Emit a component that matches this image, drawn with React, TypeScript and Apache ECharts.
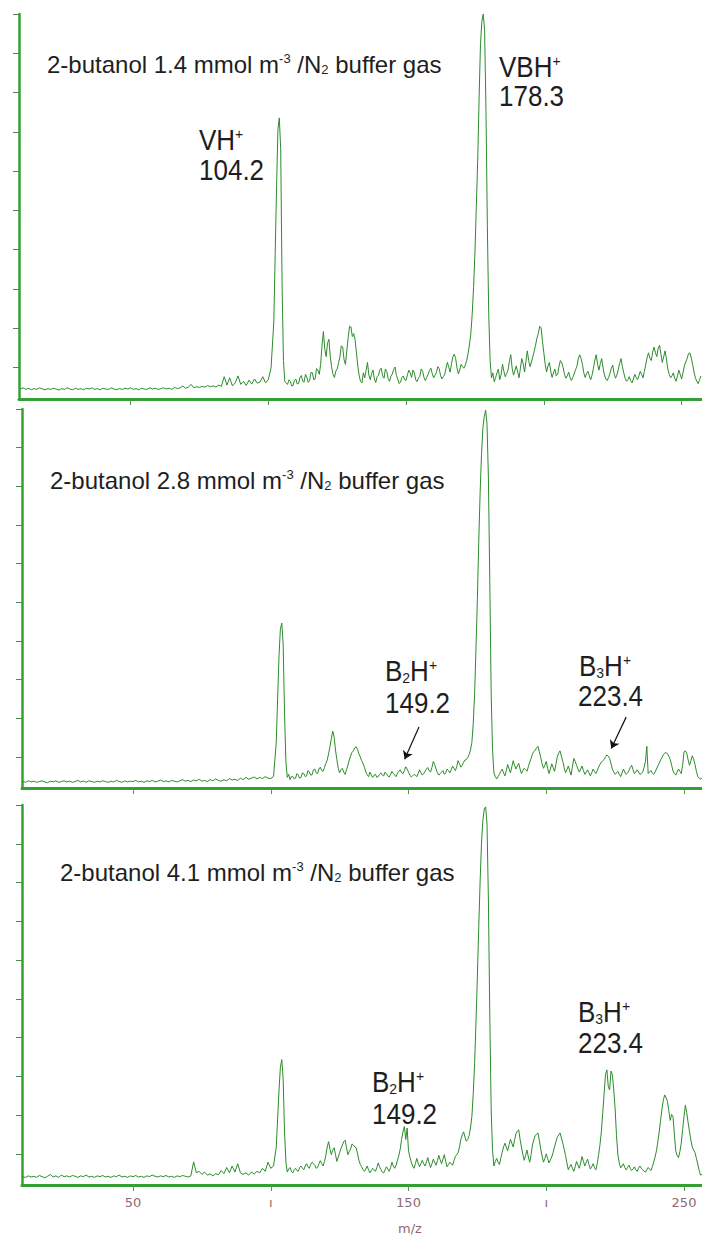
import React, { useEffect, useRef } from "react";
import * as echarts from "echarts";

// m/z tick values
const xTickValues = [50, 100, 150, 200, 250];
const xLabelValues = [50, 100, 150, 200, 250];
// relative-intensity tick levels (0-100 scale of each panel)
const yTickValues = [8.2, 18.4, 28.6, 38.8, 49.0, 59.2, 69.4, 79.6, 89.8, 100];

const panelTitles = [
  "2-butanol 1.4 mmol m{sup|-3} /N{sub|2} buffer gas",
  "2-butanol 2.8 mmol m{sup|-3} /N{sub|2} buffer gas",
  "2-butanol 4.1 mmol m{sup|-3} /N{sub|2} buffer gas",
];

// spectrum 1 : 1.4 mmol m-3  [m/z, intensity]
const spectrum1: [number, number][] = [
  [10,2.6],[11,2.9],[12,2.5],[13,2.8],[14,2.4],[15,2.7],[16,2.5],[17,2.9],[18,2.6],[19,2.4],[20,2.7],[21,2.5],[22,2.8],[23,2.6],[24,2.3],[25,2.7],[26,2.5],[27,2.9],[28,2.6],[29,2.4],[30,2.8],[31,2.5],[32,2.7],[33,2.4],[34,2.8],[35,2.6],[36,2.9],[37,2.5],[38,2.7],[39,2.4],[40,2.8],[41,2.6],[42,2.5],[43,2.9],[44,2.6],[45,2.4],[46,2.7],[47,2.5],[48,2.8],[49,2.6],[50,2.9],[51,2.5],[52,2.7],[53,2.4],[54,2.8],[55,2.6],[56,2.5],[57,2.9],[58,2.6],[59,2.8],[60,2.5],[61,2.7],[62,2.9],[63,2.6],[64,2.8],[65,2.5],[66,3.0],[67,2.7],[68,2.9],[69,3.4],[70,2.8],
  [71,3.1],[72,3.8],[73,2.9],[74,3.2],[75,3.0],[76,3.3],[77,3.1],[78,3.5],[79,3.2],[80,3.4],[81,3.1],[82,3.6],[83,3.3],[84,5.8],[85,3.6],[86,5.5],[87,3.4],[88,4.2],[89,6.0],[90,3.8],[91,4.6],[92,3.5],[93,4.9],[94,3.9],[95,5.2],[96,4.1],[97,4.4],[98,5.8],[99,4.2],[100,5.0],[101,8],[102,20],[103,55],[103.5,70],[104,73],[104.5,65],[105,30],[105.5,10],[106,4.5],
  [107,3.8],[107.5,5.0],[108,4.6],[108.5,3.4],[109,3.5],[109.5,4.8],[110,5.2],[110.5,3.9],[111,4.0],[111.5,5.6],[112,6.1],[112.5,4.6],[113,4.4],[113.5,6.4],[114,5.6],[114.5,4.3],[115,4.8],[115.5,6.9],[116,6.8],[116.5,5.0],[117,5.2],[117.5,7.9],[118,7.5],[118.5,6.4],[119,9.0],[119.5,14],[120,17.5],[120.5,13],[121,11],[121.5,14.5],[122,15.5],[122.5,11],[123,8.2],[123.5,6.4],[124,5.6],[124.5,7.2],[125,7.8],[125.5,9.4],[126,11],[126.5,13.8],[127,13.5],[127.5,10.2],[128,9.0],[128.5,12.5],[129,16],[129.5,18.9],[130,18.7],[130.5,16.2],[131,17],[131.5,15.4],[132,12],[132.5,8.5],[133,6.0],[133.5,4.5],[134,4.2],[134.5,6.8],[135,5.5],[135.5,7.4],[136,9.5],[136.5,6.2],[137,5.0],[137.5,6.6],[138,7.5],[138.5,5.2],[139,4.3],[139.5,5.8],[140,6.2],[140.5,7.6],[141,8.0],[141.5,6.0],[142,5.4],[142.5,7.8],[143,7.1],[143.5,5.3],[144,4.6],[144.5,5.9],[145,6.5],[145.5,7.7],[146,8.3],[146.5,6.1],[147,5.2],[147.5,4.0],[148,4.4],[148.5,5.6],[149,6.0],[149.5,5.0],[150,4.8],[150.5,6.3],[151,7.5],[151.5,6.8],[152,5.6],[152.5,7.5],[153,6.8],[153.5,5.0],[154,4.5],[154.5,5.4],[155,5.9],[155.5,7.8],[156,7.2],[156.5,5.6],[157,4.8],[157.5,5.6],[158,6.4],[158.5,7.4],[159,8.0],[159.5,6.6],[160,5.5],[160.5,6.2],[161,6.8],[161.5,8.4],[162,7.9],[162.5,6.2],[163,5.2],[163.5,5.8],[164,6.3],[164.5,8.0],[165,9.5],[165.5,8.2],[166,7.0],[166.5,9.2],[167,11],[167.5,11.6],[168,10.5],[168.5,8.0],[169,6.5],[169.5,7.6],[170,9.0],[170.5,8.4],[171,8.0],[171.5,8.8],[172,10],[172.5,11.8],[173,14],[173.5,17],[174,22],[174.5,29],[175,38],[175.5,50],[176,62],[176.5,78],[177,92],[177.5,98],[178,100],[178.5,96],[179,75],[179.5,45],[180,22],[180.5,10],[181,5.5],
  [181.5,6.8],[182,4.5],[182.5,5.6],[183,6.8],[183.5,7.8],[184,5.0],[184.5,6.4],[185,9.0],[185.5,7.2],[186,5.8],[186.5,6.6],[187,7.5],[187.5,9.8],[188,11.5],[188.5,8.0],[189,6.2],[189.5,7.4],[190,8.6],[190.5,7.0],[191,5.5],[191.5,8.0],[192,10.5],[192.5,9.2],[193,7.0],[193.5,9.8],[194,12.5],[194.5,10.0],[195,8.4],[195.5,9.6],[196,11],[196.5,12.4],[197,14],[197.5,15.8],[198,17],[198.5,18.9],[199,18.5],[199.5,15.0],[200,12],[200.5,9.0],[201,7.0],[201.5,8.6],[202,9.5],[202.5,7.2],[203,5.6],[203.5,6.8],[204,7.8],[204.5,6.0],[205,6.4],[205.5,8.4],[206,10],[206.5,9.4],[207,8.2],[207.5,6.4],[208,5.4],[208.5,6.0],[209,7.0],[209.5,5.6],[210,4.8],[210.5,5.6],[211,6.5],[211.5,7.6],[212,8.5],[212.5,10.4],[213,11.5],[213.5,10.6],[214,9.0],[214.5,6.8],[215,5.6],[215.5,6.6],[216,7.2],[216.5,6.0],[217,5.0],[217.5,6.2],[218,8.0],[218.5,10.0],[219,11.5],[219.5,9.0],[220,7.5],[220.5,9.2],[221,10.5],[221.5,8.0],[222,6.2],[222.5,5.2],[223,4.8],[223.5,5.6],[224,6.6],[224.5,8.0],[225,8.8],[225.5,6.6],[226,5.4],[226.5,6.2],[227,7.6],[227.5,9.2],[228,10.5],[228.5,8.4],[229,6.8],[229.5,5.4],[230,4.6],[230.5,5.0],[231,5.8],[231.5,4.8],[232,4.2],[232.5,5.2],[233,6.4],[233.5,5.6],[234,5.0],[234.5,6.0],[235,7.2],[235.5,6.4],[236,5.5],[236.5,7.2],[237,9.0],[237.5,10.8],[238,12],[238.5,10.6],[239,10],[239.5,12.2],[240,13.5],[240.5,12.0],[241,11],[241.5,13.2],[242,14],[242.5,11.6],[243,9.5],[243.5,11.0],[244,12.5],[244.5,10.4],[245,7.8],[245.5,6.4],[246,5.5],[246.5,6.0],[247,6.8],[247.5,5.4],[248,4.6],[248.5,6.0],[249,7.5],[249.5,6.4],[250,5.2],[250.5,6.8],[251,8.6],[251.5,9.6],[252,10.5],[252.5,11.8],[253,12],[253.5,10.6],[254,9.0],[254.5,7.0],[255,5.5],[255.5,4.6],[256,4.0],[256.5,5.0],[257,6.0],
];

// spectrum 2 : 2.8 mmol m-3
const spectrum2: [number, number][] = [
  [10,1.7],[11,1.5],[12,1.9],[13,1.6],[14,1.8],[15,1.5],[16,1.7],[17,1.9],[18,1.6],[19,1.4],[20,1.8],[21,1.6],[22,1.9],[23,1.5],[24,1.7],[25,1.9],[26,1.6],[27,1.8],[28,1.5],[29,1.7],[30,2.0],[31,1.6],[32,1.8],[33,1.5],[34,1.9],[35,1.7],[36,1.5],[37,1.8],[38,1.6],[39,1.9],[40,1.7],[41,1.5],[42,1.8],[43,1.6],[44,2.0],[45,1.7],[46,1.5],[47,1.9],[48,1.6],[49,1.8],[50,1.7],[51,2.0],[52,1.6],[53,1.8],[54,1.5],[55,1.9],[56,1.7],[57,2.0],[58,1.6],[59,1.8],[60,2.1],[61,1.7],[62,1.9],[63,1.6],[64,2.0],[65,1.8],[66,1.6],[67,1.9],[68,2.2],[69,1.8],[70,2.0],[71,1.7],[72,2.1],[73,1.9],[74,2.3],[75,1.8],[76,2.0],[77,1.7],[78,2.2],[79,1.9],[80,2.4],[81,2.0],[82,1.8],[83,2.2],[84,1.9],[85,2.5],[86,2.1],[87,2.3],[88,2.0],[89,2.6],[90,2.2],[91,2.8],[92,2.3],[93,2.6],[94,2.9],[95,2.4],[96,2.8],[97,2.5],[98,3.0],[99,2.6],
  [100,2.5],[101,3],[102,12],[103,35],[103.5,42],[104,43.5],[104.5,38],[105,20],[105.5,7],[106,2.8],
  [106.5,3.6],[107,2.2],[107.5,3.0],[108,3.0],[108.5,2.4],[109,2.6],[109.5,3.8],[110,3.4],[110.5,2.6],[111,2.8],[111.5,4.0],[112,3.8],[112.5,3.0],[113,3.2],[113.5,4.6],[114,4.2],[114.5,3.4],[115,3.5],[115.5,4.8],[116,5.0],[116.5,4.0],[117,3.8],[117.5,5.0],[118,5.5],[118.5,4.6],[119,4.4],[119.5,5.4],[120,6.5],[120.5,7.4],[121,9.0],[121.5,11],[122,13],[122.5,15],[123,13.5],[123.5,10],[124,7.5],[124.5,5.2],[125,4.0],[125.5,4.8],[126,5.2],[126.5,4.2],[127,3.6],[127.5,4.8],[128,6.0],[128.5,7.4],[129,8.5],[129.5,9.4],[130,9.8],[130.5,10.6],[131,10.9],[131.5,10.2],[132,9.0],[132.5,8.2],[133,7.2],[133.5,6.4],[134,5.5],[134.5,4.2],[135,3.5],[135.5,3.0],[136,4.2],[136.5,3.4],[137,2.8],[137.5,3.4],[138,3.6],[138.5,2.8],[139,3.0],[139.5,3.6],[140,4.0],[140.5,3.4],[141,3.2],[141.5,4.2],[142,3.8],[142.5,3.2],[143,2.9],[143.5,3.6],[144,4.4],[144.5,3.8],[145,3.4],[145.5,3.0],[146,3.9],[146.5,4.4],[147,4.8],[147.5,4.0],[148,3.8],[148.5,4.6],[149,5.6],[149.5,5.0],[150,4.2],[150.5,3.4],[151,2.9],[151.5,3.2],[152,3.6],[152.5,3.4],[153,3.0],[153.5,3.8],[154,4.8],[154.5,4.0],[155,3.4],[155.5,3.8],[156,4.4],[156.5,5.0],[157,5.4],[157.5,4.6],[158,4.2],[158.5,5.4],[159,7.0],[159.5,6.2],[160,5.0],[160.5,4.0],[161,3.4],[161.5,3.8],[162,4.2],[162.5,4.6],[163,3.6],[163.5,4.0],[164,5.0],[164.5,4.6],[165,4.0],[165.5,4.8],[166,5.8],[166.5,5.2],[167,4.6],[167.5,5.6],[168,7.2],[168.5,6.4],[169,5.5],[169.5,6.0],[170,6.8],[170.5,7.4],[171,7.5],[171.5,8.0],[172,8.8],[172.5,10],[173,12],[173.5,17],[174,25],[174.5,37],[175,50],[175.5,65],[176,78],[176.5,88],[177,95],[177.5,98],[178,99.7],[178.5,96],[179,82],[179.5,55],[180,25],[180.5,10],[181,4.0],
  [181.5,3.0],[182,2.4],[182.5,3.0],[183,3.6],[183.5,4.4],[184,5.0],[184.5,4.0],[185,3.2],[185.5,4.6],[186,6.2],[186.5,5.0],[187,4.0],[187.5,5.6],[188,7.2],[188.5,6.0],[189,5.0],[189.5,5.8],[190,6.5],[190.5,5.0],[191,3.8],[191.5,4.6],[192,5.2],[192.5,4.8],[193,4.4],[193.5,5.6],[194,6.8],[194.5,7.8],[195,9.0],[195.5,9.6],[196,10],[196.5,10.6],[197,11],[197.5,9.6],[198,8.0],[198.5,6.4],[199,5.2],[199.5,6.0],[200,7.0],[200.5,5.2],[201,3.8],[201.5,5.0],[202,6.4],[202.5,5.4],[203,4.4],[203.5,6.2],[204,8.2],[204.5,9.2],[205,9.8],[205.5,8.4],[206,7.0],[206.5,5.4],[207,4.0],[207.5,4.8],[208,5.8],[208.5,4.6],[209,3.4],[209.5,5.6],[210,7.8],[210.5,7.0],[211,6.0],[211.5,5.0],[212,4.2],[212.5,5.0],[213,5.8],[213.5,4.6],[214,3.6],[214.5,4.2],[215,4.8],[215.5,4.0],[216,3.2],[216.5,4.0],[217,5.0],[217.5,4.4],[218,3.8],[218.5,4.6],[219,5.5],[219.5,6.2],[220,6.8],[220.5,7.2],[221,7.5],[221.5,8.2],[222,8.7],[222.5,8.4],[223,7.8],[223.5,6.4],[224,5.0],[224.5,4.2],[225,3.6],[225.5,4.0],[226,4.4],[226.5,3.6],[227,3.0],[227.5,4.0],[228,5.0],[228.5,4.2],[229,3.6],[229.5,4.0],[230,4.6],[230.5,5.4],[231,6.0],[231.5,4.8],[232,3.8],[232.5,4.2],[233,4.8],[233.5,4.2],[234,3.6],[234.5,3.8],[235,4.2],[235.5,5.4],[236,7.0],[236.5,11],[237,3.8],[237.5,4.2],[238,4.6],[238.5,4.0],[239,3.6],[239.5,4.2],[240,5.0],[240.5,5.8],[241,6.5],[241.5,7.4],[242,8.0],[242.5,8.8],[243,9.2],[243.5,9.4],[244,9.0],[244.5,8.4],[245,7.5],[245.5,6.0],[246,4.5],[246.5,3.8],[247,3.4],[247.5,4.2],[248,5.0],[248.5,4.4],[249,3.8],[249.5,6.0],[250,9.5],[250.5,9.8],[251,9.2],[251.5,7.4],[252,6.0],[252.5,7.2],[253,8.5],[253.5,7.6],[254,6.2],[254.5,4.4],[255,3.0],[255.5,2.6],[256,2.4],[256.5,2.6],[257,2.8],
];

// spectrum 3 : 4.1 mmol m-3
const spectrum3: [number, number][] = [
  [10,2.2],[11,2.0],[12,2.4],[13,2.1],[14,2.3],[15,2.0],[16,2.5],[17,2.2],[18,1.9],[19,2.3],[20,2.8],[21,2.1],[22,2.4],[23,2.0],[24,2.6],[25,2.2],[26,2.4],[27,2.1],[28,2.5],[29,2.3],[30,2.0],[31,2.4],[32,2.2],[33,2.6],[34,2.1],[35,2.3],[36,2.0],[37,2.4],[38,2.2],[39,2.5],[40,2.1],[41,2.3],[42,2.0],[43,2.4],[44,2.2],[45,2.6],[46,2.1],[47,2.3],[48,2.0],[49,2.4],[50,2.2],[51,2.5],[52,2.1],[53,2.3],[54,2.0],[55,2.4],[56,2.2],[57,2.6],[58,2.3],[59,2.1],[60,2.4],[61,2.2],[62,2.5],[63,2.1],[64,2.3],[65,2.0],[66,2.4],[67,2.2],[68,2.5],[69,2.3],[70,2.1],
  [71,2.4],[72,6.1],[73,3.2],[74,3.6],[75,2.8],[76,3.4],[77,2.6],[78,2.9],[79,2.4],[80,3.0],[81,2.7],[82,3.8],[83,3.0],[84,4.6],[85,3.2],[86,5.0],[87,3.4],[88,5.6],[89,3.2],[90,2.8],[91,3.2],[92,2.6],[93,3.4],[94,2.9],[95,3.6],[96,3.2],[97,4.4],[98,3.6],[99,6.0],[100,4.4],[101,5.0],[102,10],[103,25],[103.5,31],[104,33],[104.5,28],[105,14],[105.5,6],[106,3.4],
  [106.5,4.2],[107,4.6],[107.5,3.6],[108,3.2],[108.5,4.0],[109,4.4],[109.5,3.8],[110,3.6],[110.5,4.6],[111,5.0],[111.5,4.4],[112,4.0],[112.5,5.0],[113,5.6],[113.5,4.8],[114,4.4],[114.5,5.4],[115,6.0],[115.5,5.6],[116,5.2],[116.5,4.4],[117,4.6],[117.5,5.6],[118,6.4],[118.5,5.6],[119,5.0],[119.5,6.2],[120,7.8],[120.5,10],[121,11.4],[121.5,9.4],[122,8.0],[122.5,9.2],[123,9.8],[123.5,8.0],[124,6.2],[124.5,7.4],[125,8.5],[125.5,9.6],[126,10.5],[126.5,11.4],[127,11.8],[127.5,9.8],[128,8.0],[128.5,8.8],[129,9.5],[129.5,10.8],[130,10.5],[130.5,10.0],[131,9.8],[131.5,8.2],[132,6.5],[132.5,5.4],[133,4.8],[133.5,4.0],[134,3.6],[134.5,4.2],[135,5.0],[135.5,4.0],[136,3.2],[136.5,3.8],[137,4.4],[137.5,4.0],[138,3.6],[138.5,4.6],[139,5.8],[139.5,4.8],[140,4.0],[140.5,3.4],[141,3.2],[141.5,4.0],[142,4.8],[142.5,4.2],[143,3.6],[143.5,4.6],[144,6.0],[144.5,5.0],[145,4.4],[145.5,5.2],[146,6.5],[146.5,7.8],[147,9.5],[147.5,12],[148,14],[148.5,15.4],[149,12],[149.5,15],[150,9.0],[150.5,7.4],[151,6.0],[151.5,5.0],[152,4.4],[152.5,5.6],[153,7.0],[153.5,5.8],[154,4.8],[154.5,5.6],[155,6.5],[155.5,5.6],[156,5.0],[156.5,6.0],[157,7.2],[157.5,5.8],[158,4.6],[158.5,5.6],[159,6.8],[159.5,6.0],[160,5.2],[160.5,6.4],[161,7.8],[161.5,6.6],[162,5.6],[162.5,6.8],[163,8.0],[163.5,6.2],[164,4.8],[164.5,5.4],[165,6.0],[165.5,5.6],[166,5.2],[166.5,6.4],[167,7.5],[167.5,8.0],[168,8.5],[168.5,10],[169,12],[169.5,13.2],[170,14],[170.5,12.6],[171,11.5],[171.5,12.0],[172,13],[172.5,15],[173,18],[173.5,24],[174,32],[174.5,43],[175,55],[175.5,68],[176,80],[176.5,90],[177,96],[177.5,99],[178,99.5],[178.5,95],[179,75],[179.5,45],[180,20],[180.5,9],[181,5.0],
  [181.5,6.2],[182,7.0],[182.5,6.0],[183,5.4],[183.5,7.0],[184,8.6],[184.5,10.0],[185,11],[185.5,10.0],[186,9.0],[186.5,10.6],[187,12],[187.5,11.0],[188,10],[188.5,11.8],[189,13.5],[189.5,14.2],[190,14.5],[190.5,12.0],[191,10],[191.5,8.0],[192,6.5],[192.5,7.8],[193,9.2],[193.5,7.4],[194,6.0],[194.5,8.0],[195,10.5],[195.5,12.0],[196,13],[196.5,13.4],[197,13.7],[197.5,11.6],[198,9.5],[198.5,7.6],[199,6.0],[199.5,7.0],[200,8.2],[200.5,7.0],[201,5.8],[201.5,6.6],[202,7.4],[202.5,8.6],[203,10],[203.5,11.4],[204,12.5],[204.5,13.2],[205,13.7],[205.5,12.4],[206,11],[206.5,9.4],[207,7.8],[207.5,5.8],[208,4.0],[208.5,4.8],[209,5.4],[209.5,4.4],[210,3.6],[210.5,4.8],[211,6.2],[211.5,5.2],[212,4.4],[212.5,5.8],[213,7.5],[213.5,6.2],[214,5.0],[214.5,6.0],[215,6.8],[215.5,5.4],[216,4.2],[216.5,4.8],[217,5.6],[217.5,4.6],[218,4.0],[218.5,5.6],[219,8.0],[219.5,10.6],[220,14],[220.5,19],[221,24],[221.5,29],[222,30.3],[222.5,26],[223,25],[223.5,30],[224,29],[224.5,25],[225,20],[225.5,13],[226,8],[226.5,5.8],[227,4.5],[227.5,5.0],[228,5.6],[228.5,4.6],[229,4.0],[229.5,4.6],[230,5.2],[230.5,4.4],[231,3.8],[231.5,4.2],[232,4.8],[232.5,4.0],[233,3.6],[233.5,4.4],[234,5.0],[234.5,4.4],[235,4.0],[235.5,3.6],[236,3.4],[236.5,4.0],[237,4.6],[237.5,4.2],[238,3.8],[238.5,4.8],[239,6.0],[239.5,7.4],[240,9.0],[240.5,11.4],[241,14],[241.5,17],[242,20],[242.5,22.4],[243,23.7],[243.5,23.0],[244,22],[244.5,19.4],[245,17],[245.5,18.6],[246,18],[246.5,13.4],[247,9.0],[247.5,7.8],[248,7.2],[248.5,8.8],[249,11],[249.5,14.6],[250,18],[250.5,21],[251,19],[251.5,16.4],[252,14],[252.5,11.8],[253,10],[253.5,9.2],[254,8.5],[254.5,7.0],[255,5.5],[255.5,3.8],[256,2.6],[256.5,2.8],[257,3.0],
];

// arrows in panel 2 pointing to B2H+ and B3H+ : [from, to] in [m/z, intensity]
const arrowsPanel2: [[number, number], [number, number]][] = [
  [[153.8, 16.1], [148.6, 7.6]],
  [[229.0, 18.7], [223.6, 10.4]],
];

const AXIS_GREEN = "#34a034";
const LINE_GREEN = "#2b8c2b";
const TEXT = "#1e1e1e";
const TICK_LABEL = "#8f6870";
const FONT = "'Liberation Sans', Arial, sans-serif";

export default function App() {
  const ref = useRef<HTMLDivElement>(null);

  useEffect(() => {
    if (!ref.current) return;
    const chart = echarts.init(ref.current, null, { renderer: "svg" });

    const grids = [
      { left: 19, top: 14, width: 683, height: 385 },
      { left: 22, top: 409, width: 680, height: 379 },
      { left: 22, top: 805, width: 680, height: 380 },
    ];
    const xMins = [9.53, 9.71, 9.71];
    const xMaxs = [257.4, 256.53, 256.53];
    const spectra = [spectrum1, spectrum2, spectrum3];

    const xAxes = grids.map((_, i) => ({
      type: "value",
      gridIndex: i,
      min: xMins[i],
      max: xMaxs[i],
      splitLine: { show: false },
      axisLine: { show: true, lineStyle: { color: AXIS_GREEN, width: 3 } },
      axisTick: {
        show: true,
        inside: false,
        length: 6,
        customValues: xTickValues,
        lineStyle: { color: "#4a9a4a", width: 1 },
      },
      axisLabel: {
        show: i === 2,
        customValues: xLabelValues,
        margin: 11,
        color: TICK_LABEL,
        fontSize: 13,
        fontFamily: "'DejaVu Sans', Verdana, sans-serif",
        formatter: (v: number) => (v === 100 || v === 200 ? "ı" : String(v)),
      },
    }));

    const yAxes = grids.map((_, i) => ({
      type: "value",
      gridIndex: i,
      min: 0,
      max: 100,
      splitLine: { show: false },
      axisLine: { show: true, lineStyle: { color: AXIS_GREEN, width: 2.5 } },
      axisTick: {
        show: true,
        inside: false,
        length: 6,
        customValues: yTickValues,
        lineStyle: { color: "#4a8a4a", width: 1 },
      },
      axisLabel: { show: false },
    }));

    const series: any[] = spectra.map((d, i) => ({
      type: "line",
      xAxisIndex: i,
      yAxisIndex: i,
      data: d,
      showSymbol: false,
      symbol: "none",
      lineStyle: { color: LINE_GREEN, width: 1 },
      clip: false,
    }));
    series[1].markLine = {
      silent: true,
      symbol: ["none", "arrow"],
      symbolSize: 8,
      label: { show: false },
      lineStyle: { color: "#111", width: 1.2, type: "solid" },
      data: arrowsPanel2.map(([a, b]) => [{ coord: a }, { coord: b }]),
    };

    const richFor = (size: number) => ({
      sup: { fontSize: Math.round(size * 0.55), fill: TEXT, fontFamily: FONT, verticalAlign: "top", lineHeight: size },
      sub: { fontSize: Math.round(size * 0.55), fill: TEXT, fontFamily: FONT, verticalAlign: "bottom", lineHeight: size },
    });

    const mkText = (x: number, y: number, text: string, size: number, sy = 1) => ({
      type: "text",
      x,
      y,
      scaleY: sy,
      style: {
        text,
        fill: TEXT,
        fontSize: size,
        fontFamily: FONT,
        verticalAlign: "middle",
        lineHeight: size,
        rich: richFor(size),
      },
    });

    const TITLE = 24;
    const LAB = 26;
    const SY = 1.1;
    const graphic = [
      mkText(47, 64, panelTitles[0], TITLE),
      mkText(50, 480, panelTitles[1], TITLE),
      mkText(60, 872, panelTitles[2], TITLE),
      mkText(199, 140, "VH{sup|+}", LAB, SY),
      mkText(199, 170, "104.2", LAB, SY),
      mkText(499, 67, "VBH{sup|+}", LAB, SY),
      mkText(499, 96, "178.3", LAB, SY),
      mkText(385, 671, "B{sub|2}H{sup|+}", LAB, SY),
      mkText(385, 703, "149.2", LAB, SY),
      mkText(579, 666, "B{sub|3}H{sup|+}", LAB, SY),
      mkText(578, 696, "223.4", LAB, SY),
      mkText(372, 1082, "B{sub|2}H{sup|+}", LAB, SY),
      mkText(372, 1114, "149.2", LAB, SY),
      mkText(578, 1012, "B{sub|3}H{sup|+}", LAB, SY),
      mkText(578, 1043, "223.4", LAB, SY),
      {
        type: "text",
        x: 410,
        y: 1228,
        style: {
          text: "m/z",
          fill: TICK_LABEL,
          fontSize: 13,
          fontFamily: "'DejaVu Sans', Verdana, sans-serif",
          align: "center",
          verticalAlign: "middle",
        },
      },
    ];

    chart.setOption({
      animation: false,
      backgroundColor: "#ffffff",
      grid: grids,
      xAxis: xAxes,
      yAxis: yAxes,
      series,
      graphic,
    });

    return () => chart.dispose();
  }, []);

  return (
    <div
      ref={ref}
      style={{ position: "absolute", left: 0, top: 0, width: 702, height: 1235 }}
    />
  );
}
